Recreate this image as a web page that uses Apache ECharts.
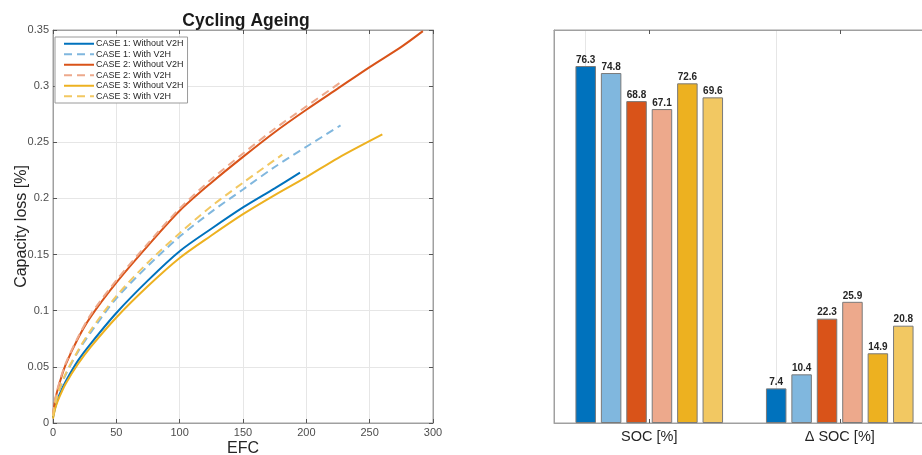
<!DOCTYPE html>
<html>
<head>
<meta charset="utf-8">
<script src="https://cdn.jsdelivr.net/npm/echarts@6/dist/echarts.min.js"></script>
<style>
html,body{margin:0;padding:0;background:#fff;}
#chart{width:922px;height:455px;}
</style>
</head>
<body>
<div id="chart"></div>
<script>
// ---- Left chart: capacity loss vs EFC ----
const legendNames = ['CASE 1: Without V2H','CASE 1: With V2H','CASE 2: Without V2H','CASE 2: With V2H','CASE 3: Without V2H','CASE 3: With V2H'];
const case1Without = [[0,0.005],[2,0.015],[5,0.025],[10,0.037],[20,0.056],[30,0.071],[50,0.098],[75,0.127],[100,0.153],[125,0.173],[150,0.192],[175,0.209],[195,0.223]];
const case1With = [[0,0.006],[2,0.018],[5,0.029],[10,0.043],[20,0.064],[30,0.081],[50,0.111],[75,0.140],[100,0.166],[125,0.188],[150,0.208],[175,0.228],[200,0.246],[227,0.265]];
const case2Without = [[0,0.007],[2,0.022],[5,0.035],[10,0.052],[20,0.076],[30,0.095],[50,0.125],[75,0.158],[100,0.189],[125,0.214],[150,0.237],[175,0.259],[200,0.279],[225,0.298],[250,0.317],[275,0.335],[292,0.349]];
const case2With = [[0,0.007],[2,0.023],[5,0.036],[10,0.053],[20,0.077],[30,0.097],[50,0.127],[75,0.160],[100,0.191],[125,0.217],[150,0.240],[175,0.262],[200,0.282],[226.6,0.303]];
const case3Without = [[0,0.004],[2,0.014],[5,0.023],[10,0.035],[20,0.053],[30,0.068],[50,0.094],[75,0.122],[100,0.147],[125,0.167],[150,0.186],[175,0.203],[200,0.219],[225,0.236],[260,0.257]];
const case3With = [[0,0.006],[2,0.019],[5,0.030],[10,0.044],[20,0.065],[30,0.083],[50,0.113],[75,0.143],[100,0.169],[125,0.193],[150,0.214],[181,0.239]];

// ---- Right chart: bars ----
const barCategories = ['SOC [%]', 'Δ SOC [%]'];
const bar1Without = [76.3, 7.4];
const bar1With = [74.8, 10.4];
const bar2Without = [68.8, 22.3];
const bar2With = [67.1, 25.9];
const bar3Without = [72.6, 14.9];
const bar3With = [69.6, 20.8];

const colors = ['#0072BD','#80B7DE','#D95319','#EDA98C','#EDB120','#F2C862'];
const lineData = [case1Without, case1With, case2Without, case2With, case3Without, case3With];
const barData = [bar1Without, bar1With, bar2Without, bar2With, bar3Without, bar3With];

const axisGray = '#a0a0a0';
const gridGray = '#e6e6e6';
const labelGray = '#4d4d4d';
const tickGray = '#555';

const lineSeries = lineData.map((d, i) => ({
  name: legendNames[i],
  type: 'line',
  xAxisIndex: 0, yAxisIndex: 0,
  data: d,
  smooth: 0.3,
  showSymbol: false,
  symbol: 'none',
  lineStyle: { color: colors[i], width: 2, type: i % 2 === 1 ? [8, 5] : 'solid' },
  itemStyle: { color: colors[i] },
  z: 2 + i
}));

const barSeries = barData.map((d, i) => ({
  name: 'bar' + i,
  type: 'bar',
  xAxisIndex: 2, yAxisIndex: 2,
  data: d,
  barWidth: 20.5,
  barGap: '24%',
  itemStyle: { color: colors[i], borderColor: '#7a7a7a', borderWidth: 1 },
  label: { show: true, position: 'top', distance: 1, fontSize: 10, fontWeight: 'bold', color: '#262626', fontFamily: 'Liberation Sans, Arial, sans-serif', formatter: p => p.value.toFixed(1) },
  markLine: i === 0 ? {
    silent: true, symbol: 'none', label: { show: false },
    lineStyle: { color: gridGray, width: 1, type: 'solid' },
    data: [{ xAxis: 0 }, { xAxis: 1 }],
    z: 0
  } : undefined,
  z: 3
}));

const chart = echarts.init(document.getElementById('chart'), null, { renderer: 'canvas' });
chart.setOption({
  animation: false,
  textStyle: { fontFamily: 'Liberation Sans, Arial, sans-serif' },
  title: {
    text: 'Cycling Ageing',
    left: 241, top: 7, textAlign: 'center',
    textStyle: { fontSize: 17.5, fontWeight: 'bold', color: '#1a1a1a', fontFamily: 'Liberation Sans, Arial, sans-serif' }
  },
  legend: {
    data: legendNames,
    orient: 'vertical',
    left: 55, top: 37,
    padding: [2, 4, 2, 8],
    itemGap: 1,
    itemWidth: 30,
    itemHeight: 9,
    itemStyle: { opacity: 0 },
    backgroundColor: '#fff',
    borderColor: '#9a9a9a',
    borderWidth: 1,
    borderRadius: 0,
    textStyle: { fontSize: 9, color: '#262626', lineHeight: 9.5, padding: [0, 0, 0, -3] }
  },
  grid: [
    { left: 53, top: 30, width: 380, height: 393, show: true, borderColor: axisGray, borderWidth: 1, outerBoundsMode: 'none', containLabel: false },
    { left: 554, top: 30, width: 381, height: 393, show: true, borderColor: axisGray, borderWidth: 1, outerBoundsMode: 'none', containLabel: false }
  ],
  xAxis: [
    { type: 'value', gridIndex: 0, min: 0, max: 300, interval: 50,
      name: 'EFC', nameLocation: 'middle', nameGap: 17.5, nameMoveOverlap: false,
      nameTextStyle: { fontSize: 16, color: '#262626' },
      axisLine: { show: true, onZero: false, lineStyle: { color: axisGray } },
      axisTick: { show: true, inside: true, length: 4, lineStyle: { color: tickGray } },
      axisLabel: { fontSize: 11, color: labelGray, margin: 4 },
      splitLine: { show: true, lineStyle: { color: gridGray } } },
    { type: 'value', gridIndex: 0, position: 'top', min: 0, max: 300, interval: 50,
      axisLine: { show: true, onZero: false, lineStyle: { color: axisGray } },
      axisTick: { show: true, inside: true, length: 4, lineStyle: { color: tickGray } },
      axisLabel: { show: false }, splitLine: { show: false } },
    { type: 'category', gridIndex: 1, data: barCategories,
      axisLine: { show: true, onZero: false, lineStyle: { color: axisGray } },
      axisTick: { show: true, inside: true, alignWithLabel: true, length: 4, lineStyle: { color: tickGray } },
      axisLabel: { fontSize: 14.5, color: '#262626', margin: 6 },
      splitLine: { show: false } },
    { type: 'category', gridIndex: 1, position: 'top', data: barCategories,
      axisLine: { show: true, onZero: false, lineStyle: { color: axisGray } },
      axisTick: { show: true, inside: true, alignWithLabel: true, length: 4, lineStyle: { color: tickGray } },
      axisLabel: { show: false }, splitLine: { show: false } }
  ],
  yAxis: [
    { type: 'value', gridIndex: 0, min: 0, max: 0.35, interval: 0.05,
      name: 'Capacity loss [%]', nameLocation: 'middle', nameGap: 23, nameMoveOverlap: false,
      nameTextStyle: { fontSize: 16, color: '#262626' },
      axisLine: { show: true, onZero: false, lineStyle: { color: axisGray } },
      axisTick: { show: true, inside: true, length: 4, lineStyle: { color: tickGray } },
      axisLabel: { fontSize: 11, color: labelGray, margin: 4 },
      splitLine: { show: true, lineStyle: { color: gridGray } } },
    { type: 'value', gridIndex: 0, position: 'right', min: 0, max: 0.35, interval: 0.05,
      axisLine: { show: true, onZero: false, lineStyle: { color: axisGray } },
      axisTick: { show: true, inside: true, length: 4, lineStyle: { color: tickGray } },
      axisLabel: { show: false }, splitLine: { show: false } },
    { type: 'value', gridIndex: 1, min: 0, max: 84,
      axisLine: { show: true, onZero: false, lineStyle: { color: axisGray } },
      axisTick: { show: false }, axisLabel: { show: false }, splitLine: { show: false } }
  ],
  series: lineSeries.concat(barSeries)
});
</script>
</body>
</html>
